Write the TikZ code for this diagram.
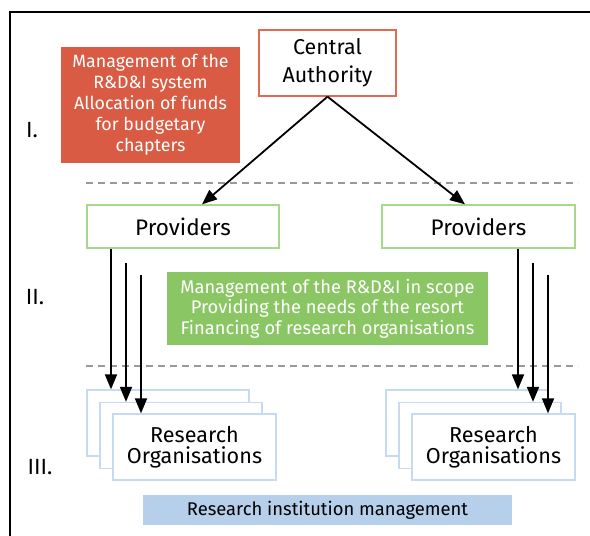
\documentclass[tikz,border=0pt]{standalone}
\usepackage{fontspec}
\setmainfont{Fira Sans}
\usetikzlibrary{arrows.meta}
\definecolor{redfill}{HTML}{D95B43}
\definecolor{redline}{HTML}{E06A52}
\definecolor{greenline}{HTML}{A8D88E}
\definecolor{greenfill}{HTML}{8BC665}
\definecolor{blueline}{HTML}{C6DBF1}
\definecolor{bluefill}{HTML}{B6D0EC}
\definecolor{dashgray}{HTML}{999999}
\tikzset{
  box/.style={draw, line width=1.3pt, inner sep=0pt, align=center, fill=white},
  cabox/.style={box, draw=redline, minimum width=137pt, minimum height=66pt, font=\fontsize{21.4}{27.5}\selectfont},
  provbox/.style={box, draw=greenline, minimum width=192pt, minimum height=43pt, font=\fontsize{22.5}{26}\selectfont},
  orgbox/.style={box, draw=blueline, minimum width=162pt, minimum height=66pt, font=\fontsize{21.6}{21}\selectfont},
  redbox/.style={inner sep=0pt, fill=redfill, text=white, align=center, minimum width=179pt, minimum height=116pt, font=\fontsize{17.8}{21}\selectfont},
  greenbox/.style={inner sep=0pt, fill=greenfill, text=white, align=center, minimum width=321pt, minimum height=73pt, font=\fontsize{18.3}{20.5}\selectfont},
  bluebar/.style={inner sep=0pt, fill=bluefill, align=center, minimum width=369pt, minimum height=30pt, font=\fontsize{18.4}{21}\selectfont},
  level/.style={font=\fontsize{22}{26}\selectfont},
  arr/.style={line width=1.8pt, -{Triangle[length=15pt,width=12pt]}},
  sep/.style={dashgray, line width=1.3pt, dash pattern=on 7pt off 5pt},
}
\begin{document}
\begin{tikzpicture}[x=1pt,y=-1pt]
\useasboundingbox (0,0) rectangle (590,536);
% frame
\draw[line width=1.6pt] (10,545) -- (10,12) -- (600,12);
% separators
\draw[sep] (86,183) -- (578,183);
\draw[sep] (86,366) -- (578,366);
% level I
\node[cabox] (ca) at (327.5,63) {Central\\Authority};
\node[redbox] (rb) at (150.5,105) {Management of the\\R\&D\&I system\\Allocation of funds\\for budgetary\\chapters};
\node[level] (l1) at (32,130) {I.};
% level II
\node[provbox] (pl) at (183,226.5) {Providers};
\node[provbox, minimum width=193pt] (pr) at (478.5,226.5) {Providers};
\node[greenbox] (gb) at (327.5,308.5) {Management of the R\&D\&I in scope\\Providing the needs of the resort\\Financing of research organisations};
\node[level] (l2) at (35,297) {II.};
% level III
\node[orgbox] (ola) at (168,423) {};
\node[orgbox] (olb) at (181,435.5) {};
\node[orgbox, minimum width=163pt] (olc) at (194.5,447) {Research\\Organisations};
\node[orgbox] (ora) at (467,423) {};
\node[orgbox] (orb) at (480,435.5) {};
\node[orgbox, minimum width=163pt] (orc) at (493.5,447) {Research\\Organisations};
\node[level] (l3) at (40,467) {III.};
\node[bluebar] (bb) at (327.5,510) {Research institution management};
% arrows from central authority
\draw[arr] (ca.south) -- (pl.north -| 202,0);
\draw[arr] (ca.south) -- (pr.north -| 465,0);
% vertical arrows
\coordinate (la2) at (126,263);
\coordinate (la3) at (141,275);
\coordinate (ra2) at (533,263);
\coordinate (ra3) at (548,275);
\draw[arr] (pl.south -| 111,0) -- (ola.north -| 111,0);
\draw[arr] (la2) -- (olb.north -| la2);
\draw[arr] (la3) -- (olc.north -| la3);
\draw[arr] (pr.south -| 518,0) -- (ora.north -| 518,0);
\draw[arr] (ra2) -- (orb.north -| ra2);
\draw[arr] (ra3) -- (orc.north -| ra3);
\end{tikzpicture}
\end{document}
